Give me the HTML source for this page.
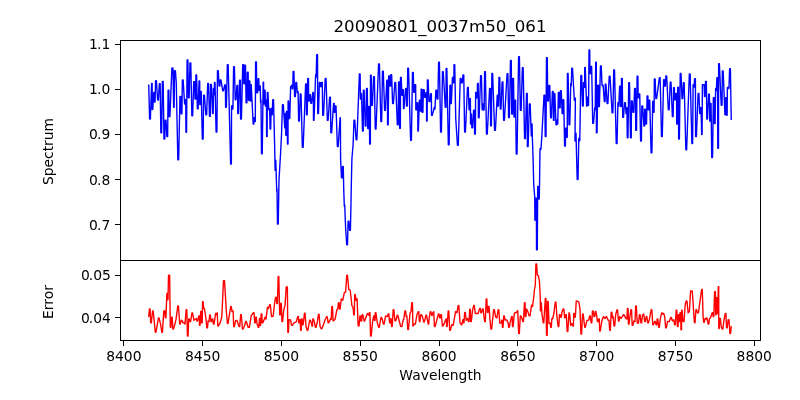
<!DOCTYPE html>
<html><head><meta charset="utf-8"><title>20090801_0037m50_061</title>
<style>
html,body{margin:0;padding:0;background:#fff;}
body{width:800px;height:400px;overflow:hidden;}
svg{display:block;will-change:transform;}
text{font-family:"DejaVu Sans","Liberation Sans",sans-serif;fill:#000;}
.t10{font-size:13.89px;}
.t12{font-size:16.67px;}
.yl{letter-spacing:-0.25px;}
</style></head><body>
<svg width="800" height="400" viewBox="0 0 800 400">
<rect width="800" height="400" fill="#fff"/>

<clipPath id="c1"><rect x="120" y="40" width="641" height="221"/></clipPath>
<clipPath id="c2"><rect x="120" y="260" width="641" height="81"/></clipPath>
<polyline clip-path="url(#c1)" fill="none" stroke="#0000ff" stroke-width="1.39" stroke-linejoin="round" stroke-linecap="square" points="148.75,85.25 149.60,119.08 150.40,119.08 151.61,83.42 152.14,83.42 152.24,109.45 152.76,109.45 153.69,92.55 154.31,92.55 154.44,101.95 155.06,101.95 155.60,80.67 156.40,80.67 157.60,99.95 158.40,99.95 159.35,83.80 160.15,83.80 160.85,132.82 161.65,132.82 162.35,81.55 163.15,81.55 163.97,139.07 164.78,139.07 165.22,120.30 166.03,120.30 166.85,136.57 167.65,136.57 168.10,90.30 168.90,90.30 169.10,116.58 169.90,116.58 171.88,68.05 173.00,68.25 173.61,107.20 174.14,107.20 174.50,70.75 175.38,70.67 176.25,82.50 177.85,159.70 178.65,159.70 179.97,96.55 180.78,96.55 181.10,113.70 181.90,113.70 182.35,79.92 183.15,79.92 184.61,104.08 185.14,104.08 185.24,99.67 185.76,99.67 185.94,132.20 186.56,132.20 187.10,60.05 187.90,60.05 188.35,97.83 189.15,97.83 189.97,63.05 190.78,63.05 191.85,115.70 192.65,115.70 193.72,81.80 194.53,81.80 195.01,99.08 195.74,99.08 195.88,75.05 196.62,75.05 197.35,108.70 198.15,108.70 199.06,80.92 199.69,80.92 199.81,104.45 200.44,104.45 200.56,91.55 201.19,91.55 202.35,139.07 203.15,139.07 203.60,95.30 204.40,95.30 205.85,114.70 206.65,114.70 207.72,83.42 208.53,83.42 209.47,116.20 210.28,116.20 210.60,84.42 211.40,84.42 212.56,113.45 213.19,113.45 213.41,88.42 213.84,88.42 213.91,94.70 214.34,94.70 214.49,82.42 215.01,82.42 216.10,131.95 216.90,131.95 217.47,70.67 218.28,70.67 219.10,85.95 219.90,85.95 220.22,80.05 221.03,80.05 222.72,90.70 223.53,90.70 224.60,85.05 225.40,85.05 225.60,107.20 226.40,107.20 227.35,64.67 228.15,64.67 230.63,164.07 231.37,164.07 231.56,105.92 232.19,105.92 232.31,109.08 232.94,109.08 233.60,66.80 234.40,66.80 235.22,99.70 236.03,99.70 236.88,85.55 237.62,85.55 237.76,113.45 238.49,113.45 239.60,80.30 240.40,80.30 240.60,119.08 241.40,119.08 242.72,64.67 243.53,64.67 243.82,83.70 244.58,83.70 244.72,65.10 245.48,65.10 246.10,102.83 246.90,102.83 247.35,72.17 248.15,72.17 248.44,100.33 249.06,100.33 249.19,80.92 249.81,80.92 250.29,100.95 250.71,100.95 250.79,84.67 251.21,84.67 253.19,124.08 253.81,124.08 253.94,117.80 254.56,117.80 254.69,121.58 255.31,121.58 255.60,61.92 256.40,61.92 256.85,92.83 257.65,92.83 258.19,78.80 258.81,78.80 258.94,90.33 259.56,90.33 259.74,85.92 260.26,85.92 260.62,102.45 261.00,100.30 261.51,153.70 262.24,153.70 263.17,82.17 263.58,82.17 263.67,104.08 264.08,104.08 264.38,90.30 265.12,90.30 265.36,105.95 265.89,105.95 265.99,100.30 266.51,100.30 266.61,136.57 267.14,136.57 267.31,92.55 267.94,92.55 268.75,109.70 269.62,108.80 270.06,129.07 270.69,129.07 271.11,108.42 271.64,108.42 271.74,114.70 272.26,114.70 272.73,99.67 273.52,99.67 274.75,150.00 275.09,170.32 275.41,170.32 275.47,160.30 275.78,160.30 276.75,191.57 277.00,189.05 277.51,224.07 278.24,224.07 279.00,180.00 280.62,152.50 281.50,135.00 282.48,104.67 283.27,104.67 284.79,127.83 285.21,127.83 285.29,113.42 285.71,113.42 285.79,135.32 286.21,135.32 286.51,111.55 287.24,111.55 287.49,144.07 288.01,144.07 288.11,100.92 288.64,100.92 288.98,118.45 289.77,118.45 290.62,86.88 291.75,85.30 292.19,88.70 292.81,88.70 293.10,71.55 293.90,71.55 294.60,96.58 295.40,96.58 295.85,82.55 296.65,82.55 297.25,92.83 298.12,91.55 298.63,120.95 299.37,120.95 300.23,94.05 301.02,94.05 302.35,147.20 303.15,147.20 305.63,84.05 306.37,84.05 306.51,114.70 307.24,114.70 307.76,78.42 308.49,78.42 308.63,100.95 309.37,100.95 309.73,94.67 310.52,94.67 310.85,103.20 311.65,103.20 312.86,92.55 313.39,92.55 313.49,120.33 314.01,120.33 315.62,74.67 316.12,77.20 316.73,54.67 317.52,54.67 317.73,113.45 318.52,113.45 319.35,82.55 320.15,82.55 320.35,86.58 321.15,86.58 321.48,82.42 322.27,82.42 322.73,115.33 323.52,115.33 325.23,78.42 326.02,78.42 327.35,120.33 328.15,120.33 329.60,97.17 330.40,97.17 330.85,132.82 331.65,132.82 333.56,103.42 334.19,103.42 334.31,112.20 334.94,112.20 335.23,105.92 336.02,105.92 337.35,146.57 338.15,146.57 340.10,117.80 340.40,117.80 340.60,158.75 341.50,177.80 342.30,177.80 342.54,166.55 343.26,166.55 343.75,190.00 344.30,206.20 344.70,204.80 345.60,227.50 346.70,244.70 347.50,244.70 348.10,221.30 348.90,221.30 349.60,230.20 350.40,230.20 351.00,202.50 351.20,190.00 351.90,158.75 353.10,145.00 353.98,120.30 354.77,120.30 356.10,139.70 356.90,139.70 359.38,74.05 360.12,74.05 360.36,99.08 360.89,99.08 360.99,93.42 361.51,93.42 362.51,130.95 363.24,130.95 363.38,90.30 364.12,90.30 365.23,125.95 366.02,125.95 366.48,88.42 367.27,88.42 367.76,128.45 368.49,128.45 368.63,106.55 369.37,106.55 369.63,144.07 370.37,144.07 370.51,75.30 371.24,75.30 371.60,105.33 372.40,105.33 373.60,76.80 374.40,76.80 375.23,129.07 376.02,129.07 378.60,64.05 379.40,64.05 380.85,121.58 381.65,121.58 382.48,71.30 383.27,71.30 384.60,110.33 385.40,110.33 386.81,80.30 387.44,80.30 387.56,124.70 388.19,124.70 388.73,75.92 389.52,75.92 389.85,85.95 390.65,85.95 390.85,74.67 391.65,74.67 392.60,103.45 393.40,103.45 394.85,82.55 395.65,82.55 397.35,124.70 398.15,124.70 398.60,81.92 399.40,81.92 399.63,128.20 400.37,128.20 400.51,77.55 401.24,77.55 401.88,95.33 402.62,95.33 402.86,89.67 403.39,89.67 403.49,108.45 404.01,108.45 405.63,88.42 406.37,88.42 406.51,105.95 407.24,105.95 407.73,68.17 408.52,68.17 410.60,140.32 411.40,140.32 412.48,72.42 413.27,72.42 413.73,92.20 414.52,92.20 414.85,84.67 415.65,84.67 415.85,109.70 416.65,109.70 417.24,102.80 417.76,102.80 417.86,130.95 418.39,130.95 419.38,100.30 420.12,100.30 420.26,110.95 420.99,110.95 421.13,89.30 421.87,89.30 422.10,112.20 422.90,112.20 423.35,89.67 424.15,89.67 424.60,97.20 425.40,97.20 425.99,92.55 426.51,92.55 426.61,120.95 427.14,120.95 427.38,80.05 428.12,80.05 428.98,101.58 429.77,101.58 430.63,93.80 431.37,93.80 431.51,115.33 432.24,115.33 434.38,107.17 435.00,109.08 435.85,90.30 436.65,90.30 437.10,99.08 437.90,99.08 438.60,62.17 439.40,62.17 440.60,131.95 441.40,131.95 442.48,71.80 443.27,71.80 445.26,107.20 445.99,107.20 446.13,68.42 446.87,68.42 448.35,144.70 449.15,144.70 449.94,85.30 450.56,85.30 450.69,103.45 451.31,103.45 452.44,77.55 453.06,77.55 453.19,82.83 453.81,82.83 454.01,64.67 454.74,64.67 455.75,118.75 457.48,145.32 458.27,145.32 460.23,78.42 461.02,78.42 461.48,82.83 462.27,82.83 462.98,74.92 463.77,74.92 464.60,131.95 465.40,131.95 467.48,87.55 468.27,87.55 469.06,109.70 469.69,109.70 469.86,98.80 470.39,98.80 470.54,124.08 470.96,124.08 471.04,114.05 471.46,114.05 471.85,127.83 472.65,127.83 473.60,110.30 474.40,110.30 474.60,134.07 475.40,134.07 475.63,92.55 476.37,92.55 476.51,97.83 477.24,97.83 477.51,83.42 478.24,83.42 478.38,117.83 479.12,117.83 480.60,75.67 481.40,75.67 482.19,109.70 482.81,109.70 482.99,104.05 483.51,104.05 483.61,109.95 484.14,109.95 484.60,71.80 485.40,71.80 486.48,134.07 487.27,134.07 489.60,88.42 490.40,88.42 490.60,125.70 491.40,125.70 491.85,73.42 492.65,73.42 494.60,130.32 495.40,130.32 497.24,95.30 497.76,95.30 497.86,105.95 498.39,105.95 498.98,77.55 499.77,77.55 500.23,109.08 501.02,109.08 502.10,81.92 502.90,81.92 503.60,120.33 504.40,120.33 507.10,73.80 507.90,73.80 508.60,117.45 509.40,117.45 510.48,60.55 511.27,60.55 511.73,114.08 512.52,114.08 512.73,78.42 513.52,78.42 514.01,116.95 514.74,116.95 514.88,100.30 515.62,100.30 516.23,154.07 517.02,154.07 518.60,56.80 519.40,56.80 520.35,110.33 521.15,110.33 522.35,67.80 523.15,67.80 524.60,138.45 525.40,138.45 526.51,93.42 527.24,93.42 527.38,146.57 528.12,146.57 529.35,104.05 530.15,104.05 531.33,135.95 531.67,135.95 531.73,124.05 532.07,124.05 532.30,135.00 533.10,160.00 533.75,185.00 534.75,197.50 534.89,220.30 535.11,220.30 535.62,198.30 536.38,198.30 536.52,249.70 537.28,249.70 537.70,186.55 538.50,186.55 538.93,199.10 539.27,199.10 539.50,185.00 540.00,149.40 540.40,148.10 541.00,149.20 541.90,135.00 544.00,95.30 544.80,95.30 545.23,136.57 546.02,136.57 546.48,57.80 547.27,57.80 547.73,100.95 548.52,100.95 548.98,85.55 549.77,85.55 550.60,117.83 551.40,117.83 552.35,91.55 553.15,91.55 553.43,120.33 554.07,120.33 554.18,93.42 554.82,93.42 555.99,124.70 556.51,124.70 556.61,120.30 557.14,120.30 557.24,124.08 557.76,124.08 558.35,92.55 559.15,92.55 559.35,107.83 560.15,107.83 560.48,90.67 561.27,90.67 562.13,113.45 562.87,113.45 563.01,99.67 563.74,99.67 564.60,145.95 565.40,145.95 565.62,128.30 566.38,128.30 566.54,137.20 567.26,137.20 567.39,73.42 568.11,73.42 568.98,124.70 569.77,124.70 570.75,83.42 571.25,85.95 571.76,68.17 572.49,68.17 574.38,100.33 575.38,98.05 575.00,140.95 575.41,133.30 575.99,133.30 577.20,179.45 578.00,179.45 578.80,138.30 579.80,140.70 580.85,75.55 581.65,75.55 582.51,105.95 583.24,105.95 583.49,82.80 584.01,82.80 584.11,87.20 584.64,87.20 584.74,67.55 585.26,67.55 586.61,105.95 587.14,105.95 587.24,97.17 587.76,97.17 587.93,105.33 588.57,105.33 589.01,50.05 589.74,50.05 589.88,73.45 590.62,73.45 590.85,66.55 591.65,66.55 592.73,123.20 593.52,123.20 594.75,107.80 595.25,109.70 595.68,62.17 596.32,62.17 596.43,132.82 597.07,132.82 597.76,85.30 598.49,85.30 598.63,106.58 599.37,106.58 600.48,65.92 601.27,65.92 602.00,85.00 602.50,85.95 603.12,85.30 604.38,101.58 605.12,101.58 605.26,84.30 605.99,84.30 607.10,103.45 607.90,103.45 609.23,76.17 610.02,76.17 612.10,112.83 612.90,112.83 613.73,70.05 614.52,70.05 616.23,143.45 617.02,143.45 617.91,102.80 618.34,102.80 618.41,105.95 618.84,105.95 619.63,86.30 620.37,86.30 620.51,106.58 621.24,106.58 621.48,78.42 622.27,78.42 622.73,117.20 623.52,117.20 624.60,102.80 625.40,102.80 626.04,113.45 626.46,113.45 626.54,107.80 626.96,107.80 627.26,137.82 627.99,137.82 628.73,82.80 629.52,82.80 630.48,137.82 631.27,137.82 631.48,100.92 632.27,100.92 632.98,112.20 633.77,112.20 634.60,88.42 635.40,88.42 635.73,130.32 636.52,130.32 637.10,76.30 637.90,76.30 638.13,97.83 638.87,97.83 639.01,94.05 639.74,94.05 640.60,140.95 641.40,140.95 641.85,105.92 642.65,105.92 643.93,125.95 644.57,125.95 644.68,109.10 645.32,109.10 645.73,124.08 646.52,124.08 647.10,95.92 647.90,95.92 648.13,109.70 648.87,109.70 649.01,100.30 649.74,100.30 651.10,152.82 651.90,152.82 652.68,101.55 653.32,101.55 653.43,112.20 654.07,112.20 654.35,79.05 655.15,79.05 655.85,98.45 656.65,98.45 659.35,77.80 660.15,77.80 661.48,136.57 662.27,136.57 663.60,79.67 664.40,79.67 664.60,85.95 665.40,85.95 665.85,75.92 666.65,75.92 668.35,109.70 669.15,109.70 670.23,82.17 671.02,82.17 672.35,116.58 673.15,116.58 673.60,87.80 674.40,87.80 674.60,99.70 675.40,99.70 675.93,93.42 676.57,93.42 676.68,124.08 677.32,124.08 677.76,87.17 678.49,87.17 678.63,139.07 679.37,139.07 680.23,73.42 681.02,73.42 681.98,98.45 682.77,98.45 683.35,82.80 684.15,82.80 685.85,149.70 686.65,149.70 688.12,107.50 689.35,74.05 690.15,74.05 691.88,143.45 692.62,143.45 693.12,84.67 694.00,87.20 694.60,78.80 695.40,78.80 695.60,136.57 696.40,136.57 698.10,93.42 698.90,93.42 699.68,113.45 700.32,113.45 700.43,107.80 701.07,107.80 701.66,134.45 702.09,134.45 702.38,84.67 704.12,84.75 704.49,96.58 705.01,96.58 705.50,81.50 706.38,81.55 706.81,119.08 707.44,119.08 708.60,94.30 709.40,94.30 709.68,120.95 710.32,120.95 710.43,103.42 711.07,103.42 711.73,157.45 712.52,157.45 713.35,97.80 714.15,97.80 714.38,123.45 715.12,123.45 715.62,88.42 716.38,90.70 716.88,77.80 717.62,77.80 717.76,148.20 718.49,148.20 718.63,63.80 719.37,63.80 721.23,105.33 722.02,105.33 722.35,70.92 723.15,70.92 724.93,114.70 725.57,114.70 725.68,97.80 726.32,97.80 726.84,115.33 727.16,115.33 727.38,87.50 728.62,87.55 729.00,88.70 729.60,68.80 730.40,68.80 731.25,119.38"/>
<polyline clip-path="url(#c2)" fill="none" stroke="#ff0000" stroke-width="1.39" stroke-linejoin="round" stroke-linecap="square" points="148.75,316.25 149.43,309.05 150.07,309.05 150.68,322.82 151.32,322.82 152.56,310.93 153.19,310.93 155.31,332.20 155.94,332.20 158.43,318.05 159.07,318.05 160.62,324.38 161.81,332.20 162.44,332.20 163.75,311.25 164.75,310.55 165.31,317.82 165.94,317.82 166.86,293.43 167.39,293.43 167.49,299.70 168.01,299.70 168.50,275.25 169.62,275.25 170.31,327.20 170.94,327.20 171.56,317.18 172.19,317.18 172.81,329.07 173.44,329.07 174.38,326.25 176.00,319.38 177.81,305.93 178.44,305.93 179.68,324.07 180.32,324.07 181.18,320.30 181.82,320.30 183.12,322.82 184.00,322.55 185.00,324.07 186.18,309.68 186.82,309.68 187.43,335.95 188.07,335.95 188.68,319.05 189.32,319.05 189.93,321.57 190.57,321.57 191.93,313.05 192.57,313.05 194.00,320.32 196.25,318.43 196.93,320.95 197.57,320.95 198.69,315.93 199.31,315.93 199.44,325.32 200.06,325.32 200.68,311.55 201.32,311.55 201.56,322.82 202.19,322.82 202.56,301.80 203.19,301.80 203.75,308.45 204.38,308.43 206.00,318.75 206.81,327.82 207.44,327.82 208.12,320.93 209.00,321.57 209.68,315.05 210.32,315.05 210.93,321.57 211.57,321.57 212.18,319.05 212.82,319.05 213.43,324.07 214.07,324.07 215.62,313.43 216.50,314.70 217.25,312.80 217.81,325.95 218.44,325.95 220.00,323.12 221.00,320.00 221.88,315.62 223.50,280.62 224.50,280.62 226.25,310.00 227.43,323.45 228.07,323.45 229.38,315.00 230.68,306.55 231.32,306.55 232.00,311.57 233.12,310.93 233.68,326.57 234.32,326.57 235.62,320.62 236.88,320.30 239.06,326.57 239.69,326.57 240.68,314.68 241.32,314.68 242.43,329.07 243.07,329.07 244.38,326.25 245.68,321.55 246.32,321.55 248.12,327.25 249.38,327.20 251.25,315.62 253.43,312.80 254.07,312.80 254.68,322.82 255.32,322.82 255.68,317.18 256.32,317.18 256.88,323.12 258.18,327.20 258.82,327.20 259.49,318.43 260.01,318.43 260.11,325.32 260.64,325.32 261.18,314.05 261.82,314.05 262.18,322.82 262.82,322.82 263.75,320.62 265.00,317.18 266.00,319.07 267.50,307.18 268.50,308.45 269.68,304.68 270.32,304.68 271.50,316.57 273.12,316.25 274.62,303.12 275.50,297.50 276.25,297.18 276.81,303.45 277.44,303.45 278.18,276.55 278.82,276.55 279.68,314.70 280.32,314.70 280.68,303.43 281.32,303.43 281.93,321.57 282.57,321.57 283.75,310.00 285.00,305.62 286.25,286.88 287.38,286.88 287.81,332.20 288.44,332.20 289.00,319.68 290.62,320.00 291.56,325.32 292.19,325.32 293.75,323.12 296.25,321.88 297.81,316.55 298.44,316.55 298.68,322.82 299.32,322.82 299.68,319.68 300.32,319.68 300.56,330.32 301.19,330.32 301.56,319.05 302.19,319.05 302.43,324.70 303.07,324.70 303.75,320.00 304.43,313.18 305.07,313.18 306.00,326.25 307.18,330.32 307.82,330.32 309.68,320.30 310.32,320.30 311.25,322.50 311.93,325.95 312.57,325.95 312.81,319.05 313.44,319.05 314.38,321.88 315.31,327.20 315.94,327.20 317.25,322.50 318.43,314.30 319.07,314.30 320.00,326.25 321.18,328.70 321.82,328.70 323.12,325.62 325.00,320.00 326.56,316.80 327.19,316.80 328.18,322.82 328.82,322.82 330.62,318.43 331.25,319.45 331.81,306.55 332.44,306.55 333.12,320.95 335.00,319.38 336.88,310.00 337.75,308.75 338.43,302.80 339.07,302.80 339.43,309.07 340.07,309.07 341.25,299.05 342.75,300.32 344.38,292.50 345.60,292.20 346.78,275.10 347.42,275.10 348.75,289.40 350.25,290.25 351.90,305.60 353.10,307.50 353.68,314.70 354.32,314.70 354.68,294.70 355.32,294.70 356.00,300.30 357.10,298.80 358.10,325.60 359.00,325.95 359.93,315.93 360.57,315.93 360.93,320.95 361.57,320.95 362.18,314.68 362.82,314.68 364.06,320.95 364.69,320.95 365.62,318.12 367.50,313.43 368.75,315.32 369.31,312.80 369.94,312.80 370.56,335.95 371.19,335.95 372.50,322.50 373.69,315.93 374.31,315.93 374.44,320.32 375.06,320.32 375.31,312.80 375.94,312.80 377.25,322.50 378.68,327.20 379.32,327.20 380.93,317.55 381.57,317.55 382.50,320.00 383.43,324.07 384.07,324.07 385.62,315.93 387.50,316.57 388.18,314.05 388.82,314.05 389.38,320.62 389.74,322.82 390.26,322.82 390.44,318.80 391.06,318.80 391.56,326.57 392.19,326.57 393.18,309.68 393.82,309.68 395.00,320.95 396.00,320.38 397.18,315.30 397.82,315.30 399.00,320.00 400.62,326.25 401.88,326.57 403.12,320.00 403.75,319.38 404.93,310.93 405.57,310.93 406.25,316.57 406.88,315.93 407.81,329.45 408.44,329.45 410.00,313.12 411.00,311.50 411.81,302.80 412.44,302.80 412.88,325.95 414.38,324.05 415.38,324.07 416.88,315.00 418.18,311.80 418.82,311.80 419.31,321.57 419.94,321.57 420.68,314.68 421.32,314.68 422.50,316.88 423.68,321.95 424.32,321.95 425.93,315.30 426.57,315.30 427.50,320.62 428.24,324.07 428.76,324.07 429.12,318.12 430.31,311.80 430.94,311.80 431.61,315.32 432.14,315.32 432.50,313.12 433.75,311.80 434.43,326.57 435.07,326.57 436.88,320.00 438.43,314.05 439.07,314.05 439.68,317.82 440.32,317.82 440.68,314.68 441.32,314.68 442.43,325.95 443.07,325.95 444.38,323.12 445.99,319.05 446.51,319.05 446.61,326.57 447.14,326.57 448.18,310.93 448.82,310.93 449.68,330.32 450.32,330.32 451.88,324.68 453.12,325.32 455.62,311.55 456.88,312.82 458.18,305.55 458.82,305.55 460.00,322.50 461.18,324.70 461.82,324.70 462.86,319.68 463.39,319.68 463.49,322.82 464.01,322.82 464.68,312.55 465.32,312.55 466.25,320.32 467.50,318.43 468.43,321.57 469.07,321.57 469.68,309.30 470.32,309.30 470.68,321.57 471.32,321.57 472.50,310.62 473.68,305.55 474.32,305.55 475.25,313.45 476.88,313.43 478.12,313.45 479.68,308.43 480.32,308.43 480.93,312.82 481.57,312.82 482.56,309.05 483.19,309.05 484.00,316.88 484.68,321.57 485.32,321.57 486.18,299.05 486.82,299.05 487.43,312.20 488.07,312.20 488.43,306.55 489.07,306.55 490.00,320.00 490.93,329.07 491.57,329.07 493.68,309.68 494.32,309.68 495.62,316.88 496.88,317.82 498.18,309.68 498.82,309.68 499.75,323.12 501.25,323.12 501.61,320.30 502.14,320.30 502.43,327.20 503.07,327.20 503.68,315.93 504.32,315.93 505.00,320.00 506.88,320.00 508.12,323.12 508.68,327.20 509.32,327.20 510.00,323.12 511.56,316.55 512.20,316.55 512.43,326.57 513.07,326.57 514.38,313.12 516.25,312.50 517.75,310.55 518.68,333.45 519.32,333.45 520.30,315.93 520.95,315.93 521.88,318.12 522.80,321.57 523.45,321.57 524.43,302.80 525.07,302.80 525.30,316.57 525.95,316.57 526.50,309.05 527.50,310.62 529.00,315.62 530.00,315.95 531.50,305.30 532.50,306.57 534.00,295.00 534.40,290.00 535.30,285.00 535.90,263.90 536.60,263.90 537.30,275.00 538.40,275.60 539.40,281.25 540.20,296.00 540.43,310.70 540.77,310.70 540.89,302.80 541.31,302.80 541.90,313.00 543.18,322.70 543.82,322.70 545.30,298.43 545.95,298.43 546.55,335.32 547.20,335.32 547.55,301.55 548.20,301.55 549.00,323.45 550.25,323.05 550.68,327.20 551.32,327.20 551.88,318.43 552.75,318.70 554.00,312.50 555.30,302.18 555.95,302.18 556.88,316.25 558.18,326.57 558.82,326.57 559.43,314.68 560.07,314.68 560.68,317.20 561.32,317.20 561.88,312.50 563.18,309.05 563.82,309.05 564.68,317.82 565.32,317.82 565.68,314.68 566.32,314.68 567.18,331.57 567.82,331.57 569.00,312.80 569.75,314.38 570.62,325.32 571.88,323.43 572.80,325.95 573.45,325.95 573.68,313.43 574.32,313.43 574.68,317.20 575.32,317.20 576.25,300.93 578.75,301.88 580.00,308.75 580.93,334.07 581.57,334.07 582.55,314.05 583.20,314.05 584.00,321.25 584.68,327.20 585.32,327.20 586.88,320.62 588.75,320.00 589.68,315.93 590.32,315.93 591.18,322.82 591.82,322.82 592.43,310.93 593.07,310.93 594.05,316.57 594.70,316.57 595.30,311.55 595.95,311.55 596.88,316.88 597.43,321.57 598.07,321.57 598.68,319.05 599.32,319.05 599.68,330.95 600.32,330.95 601.88,320.62 603.50,316.55 605.00,318.45 606.50,316.55 608.12,320.32 609.00,320.30 609.68,330.32 610.32,330.32 611.18,312.18 611.82,312.18 612.50,317.82 613.12,316.55 614.05,325.95 614.70,325.95 615.62,315.00 616.93,310.05 617.57,310.05 618.43,320.95 619.07,320.95 619.75,316.55 621.00,318.45 622.25,316.88 623.43,314.68 624.07,314.68 625.62,318.12 626.88,319.07 627.43,308.43 628.07,308.43 628.43,324.07 629.07,324.07 630.00,315.62 630.93,309.68 631.57,309.68 632.18,325.32 632.82,325.32 634.00,320.93 635.00,321.57 635.68,305.93 636.32,305.93 637.25,323.12 638.50,323.12 639.43,314.68 640.07,314.68 640.93,322.82 641.57,322.82 642.50,315.00 643.75,314.05 644.68,321.57 645.32,321.57 646.18,316.55 646.82,316.55 647.80,322.82 648.45,322.82 649.38,319.38 651.18,309.68 651.82,309.68 652.80,324.70 653.45,324.70 654.68,321.55 655.32,321.55 656.18,324.70 656.82,324.70 657.18,319.05 657.82,319.05 658.68,327.20 659.32,327.20 660.62,316.88 661.88,312.80 662.88,314.07 663.75,313.43 664.75,316.88 665.68,327.82 666.32,327.82 667.50,321.55 669.38,321.57 670.68,317.55 671.32,317.55 672.50,320.95 673.75,319.68 674.68,324.70 675.32,324.70 676.18,310.30 676.82,310.30 677.43,326.57 678.07,326.57 678.49,314.68 679.01,314.68 679.11,321.57 679.64,321.57 680.05,312.80 680.70,312.80 680.99,329.70 681.51,329.70 681.61,310.30 682.14,310.30 682.88,321.25 684.00,321.57 685.25,304.38 686.30,300.93 686.95,300.93 688.12,312.82 689.38,311.50 690.62,290.93 692.25,291.00 694.38,322.50 695.00,322.82 695.93,309.68 696.57,309.68 697.50,312.82 698.50,312.50 701.50,290.00 702.25,289.30 703.12,316.88 703.68,322.20 704.32,322.20 705.00,318.43 706.25,319.07 706.88,317.80 708.18,324.07 708.82,324.07 709.38,318.75 710.62,317.50 712.18,312.80 712.82,312.80 713.18,316.57 713.82,316.57 714.62,291.88 715.38,291.55 715.66,314.70 716.09,314.70 716.31,297.80 716.94,297.80 717.18,313.45 717.82,313.45 718.29,286.80 718.71,286.80 718.79,328.45 719.21,328.45 719.68,318.43 720.32,318.43 721.25,326.88 722.18,329.07 722.82,329.07 724.00,320.00 725.30,313.43 725.95,313.43 726.55,327.82 727.20,327.82 728.12,320.00 729.00,319.68 729.93,333.45 730.57,333.45 731.25,326.88"/>
<g fill="none" stroke="#000" stroke-width="1" shape-rendering="crispEdges">
<rect x="120.5" y="40.5" width="640" height="220"/>
<rect x="120.5" y="260.5" width="640" height="80"/>
<line x1="123.5" y1="340.5" x2="123.5" y2="345.5"/>
<line x1="202.5" y1="340.5" x2="202.5" y2="345.5"/>
<line x1="281.5" y1="340.5" x2="281.5" y2="345.5"/>
<line x1="360.5" y1="340.5" x2="360.5" y2="345.5"/>
<line x1="439.5" y1="340.5" x2="439.5" y2="345.5"/>
<line x1="517.5" y1="340.5" x2="517.5" y2="345.5"/>
<line x1="596.5" y1="340.5" x2="596.5" y2="345.5"/>
<line x1="675.5" y1="340.5" x2="675.5" y2="345.5"/>
<line x1="754.5" y1="340.5" x2="754.5" y2="345.5"/>
<line x1="115" y1="44.5" x2="120.5" y2="44.5"/>
<line x1="115" y1="89.5" x2="120.5" y2="89.5"/>
<line x1="115" y1="134.5" x2="120.5" y2="134.5"/>
<line x1="115" y1="179.5" x2="120.5" y2="179.5"/>
<line x1="115" y1="224.5" x2="120.5" y2="224.5"/>
<line x1="115" y1="275.5" x2="120.5" y2="275.5"/>
<line x1="115" y1="317.5" x2="120.5" y2="317.5"/>
</g>
<text class="t10" text-anchor="middle" x="123.85" y="360.6">8400</text>
<text class="t10" text-anchor="middle" x="202.65" y="360.6">8450</text>
<text class="t10" text-anchor="middle" x="281.45" y="360.6">8500</text>
<text class="t10" text-anchor="middle" x="360.25" y="360.6">8550</text>
<text class="t10" text-anchor="middle" x="439.05" y="360.6">8600</text>
<text class="t10" text-anchor="middle" x="517.85" y="360.6">8650</text>
<text class="t10" text-anchor="middle" x="596.65" y="360.6">8700</text>
<text class="t10" text-anchor="middle" x="675.45" y="360.6">8750</text>
<text class="t10" text-anchor="middle" x="754.25" y="360.6">8800</text>
<text class="t10" x="89.1 96.95 101.5" y="49">1.1</text>
<text class="t10" x="89.1 96.95 101.5" y="94">1.0</text>
<text class="t10" x="89.1 96.95 101.5" y="139">0.9</text>
<text class="t10" x="89.1 96.95 101.5" y="185">0.8</text>
<text class="t10" x="89.1 96.95 101.5" y="230">0.7</text>
<text class="t10" x="81.05 88.85 93.2 102.1" y="280">0.05</text>
<text class="t10" x="81.05 88.85 93.2 102.1" y="323">0.04</text>
<text class="t12" text-anchor="middle" x="440" y="32">20090801_0037m50_061</text>
<text class="t10" text-anchor="middle" x="440.5" y="380">Wavelength</text>
<text class="t10" text-anchor="middle" transform="translate(52.5,151.5) rotate(-90)">Spectrum</text>
<text class="t10" text-anchor="middle" transform="translate(52.5,302) rotate(-90)">Error</text>
</svg></body></html>
